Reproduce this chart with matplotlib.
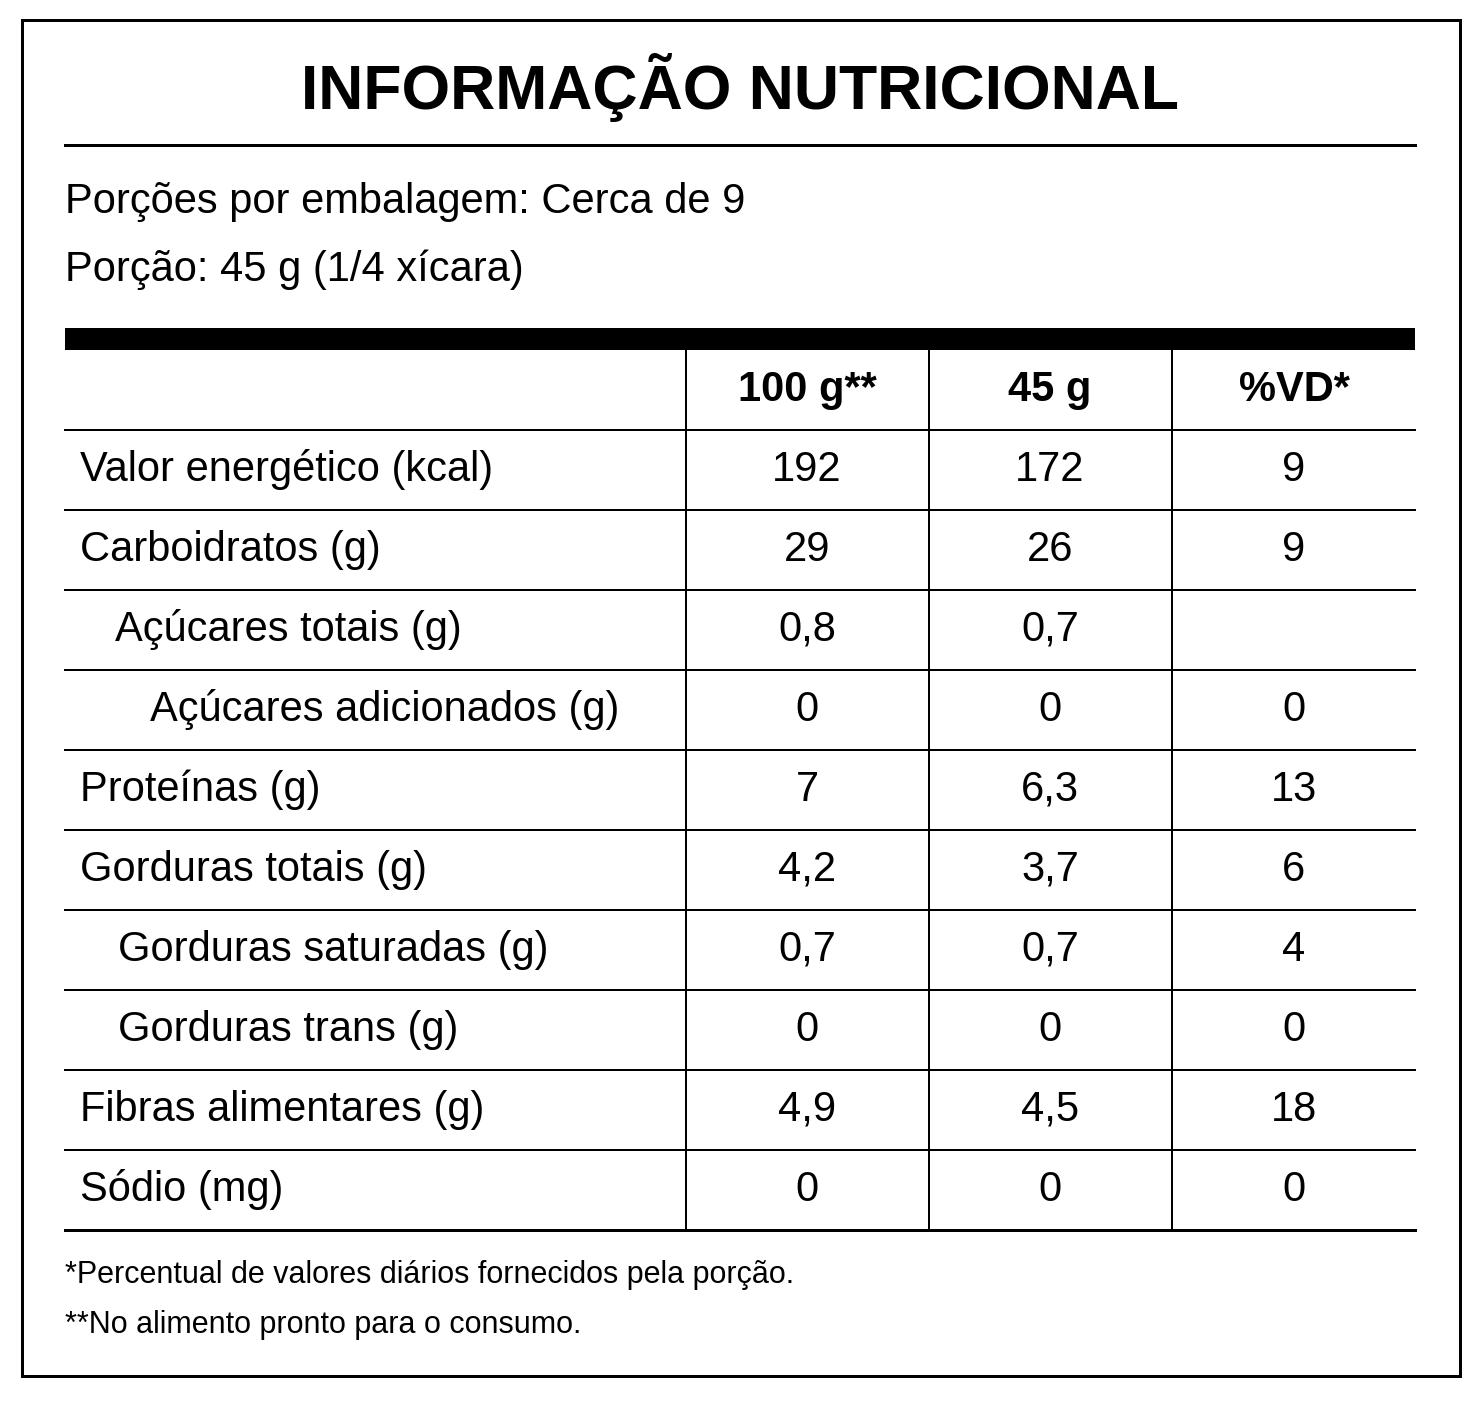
import matplotlib
matplotlib.use('Agg')
import matplotlib.pyplot as plt
from matplotlib.patches import Rectangle

plt.rcParams['font.family'] = ['Liberation Sans', 'DejaVu Sans']

titulo = 'INFORMAÇÃO NUTRICIONAL'
porcoes = 'Porções por embalagem: Cerca de 9'
porcao = 'Porção: 45 g (1/4 xícara)'
cabecalho = ['100 g**', '45 g', '%VD*']
nutrientes = ['Valor energético (kcal)', 'Carboidratos (g)', 'Açúcares totais (g)',
              'Açúcares adicionados (g)', 'Proteínas (g)', 'Gorduras totais (g)',
              'Gorduras saturadas (g)', 'Gorduras trans (g)', 'Fibras alimentares (g)',
              'Sódio (mg)']
nivel = [0, 0, 1, 2, 0, 0, 1, 1, 0, 0]
por_100g = ['192', '29', '0,8', '0', '7', '4,2', '0,7', '0', '4,9', '0']
por_45g = ['172', '26', '0,7', '0', '6,3', '3,7', '0,7', '0', '4,5', '0']
vd = ['9', '9', '', '0', '13', '6', '4', '0', '18', '0']
notas = ['*Percentual de valores diários fornecidos pela porção.',
         '**No alimento pronto para o consumo.']

W, H = 1482, 1404
fig = plt.figure(figsize=(W / 100, H / 100), dpi=100)
ax = fig.add_axes([0, 0, 1, 1])
ax.set_xlim(0, W)
ax.set_ylim(H, 0)
ax.axis('off')

px = 72 / 100  # pixel -> point
ax.add_patch(Rectangle((22, 20), 1438, 1356, fill=False, lw=3 * px, ec='black'))
ax.text(740, 88, titulo, ha='center', va='center', fontsize=45, fontweight='bold')
ax.plot([65, 1415], [145, 145], color='black', lw=3 * px)
ax.text(65, 202, porcoes, ha='left', va='center', fontsize=30)
ax.text(65, 270, porcao, ha='left', va='center', fontsize=30)
ax.add_patch(Rectangle((65, 328), 1350, 22, color='black', lw=0))

xl, xr = 65, 1415
seps = [686, 929, 1172]
centros = [807, 1050, 1294]
top, row_h = 350, 80
n = len(nutrientes)
bottom = top + row_h * (n + 1)
for x in seps:
    ax.plot([x, x], [top, bottom], color='black', lw=2 * px)
for c, t in zip(centros, cabecalho):
    ax.text(c, top + row_h / 2, t, ha='center', va='center', fontsize=30, fontweight='bold')
indent = {0: 80, 1: 115, 2: 150}
for i in range(n):
    y0 = top + row_h * (i + 1)
    ax.plot([xl, xr], [y0, y0], color='black', lw=2 * px)
    yc = y0 + row_h / 2
    x_lab = indent[nivel[i]]
    if nutrientes[i].startswith('Gorduras') and nivel[i] == 1:
        x_lab = 118
    ax.text(x_lab, yc, nutrientes[i], ha='left', va='center', fontsize=30)
    for c, v in zip(centros, [por_100g[i], por_45g[i], vd[i]]):
        ax.text(c, yc, v, ha='center', va='center', fontsize=30)
ax.plot([xl, xr], [bottom, bottom], color='black', lw=3 * px)

for k, t in enumerate(notas):
    ax.text(65, 1275 + 50 * k, t, ha='left', va='center', fontsize=22)

fig.savefig('out.png', dpi=100, facecolor='white')
